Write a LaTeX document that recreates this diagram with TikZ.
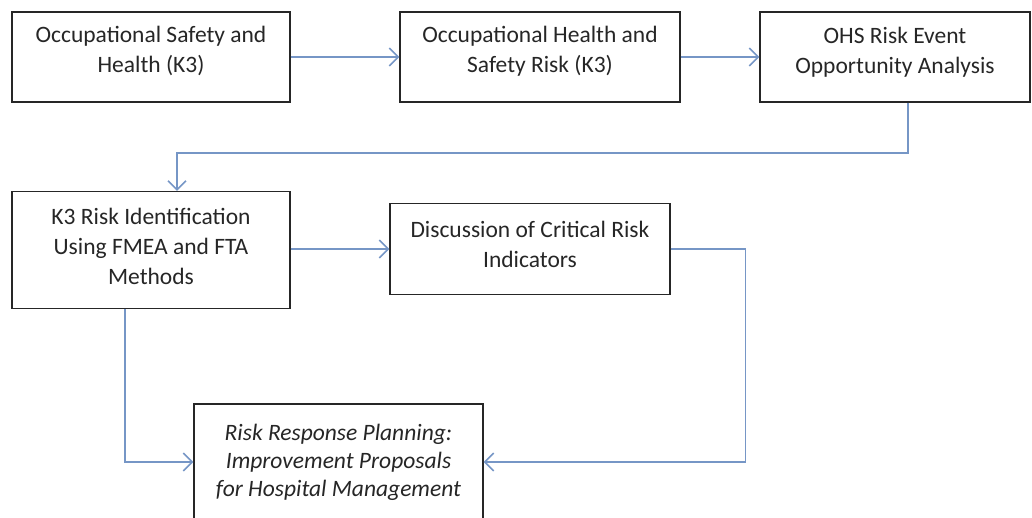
\documentclass[tikz,border=0pt]{standalone}
\usepackage{fontspec}
\setmainfont{Carlito}
\usetikzlibrary{arrows.meta}
\definecolor{linkblue}{RGB}{118,150,198}
\definecolor{inkgray}{RGB}{38,38,38}
\begin{document}
\begin{tikzpicture}[x=1pt,y=-1pt,
  stepbox/.style={draw=black!85, line width=1.2pt, align=center, text=inkgray,
    font=\fontsize{23.5}{30}\selectfont, inner sep=0pt},
  link/.style={draw=linkblue, line width=1.6pt,
    -{Straight Barb[length=9pt,width=18pt,line width=1.6pt]}}]
\useasboundingbox (0,0) rectangle (1032,518);

% top row (text sits a little above the middle of each box)
\node[stepbox, minimum width=278pt, minimum height=90pt, text depth=15pt] (k3) at (151,57)
  {Occupational Safety and\\Health (K3)};
\node[stepbox, minimum width=280pt, minimum height=90pt, text depth=15pt] (risk) at (540,57)
  {Occupational Health and\\Safety Risk (K3)};
\node[stepbox, minimum width=270pt, minimum height=90pt, text depth=14pt] (opp) at (895,57)
  {OHS Risk Event\\Opportunity Analysis};

% middle row
\node[stepbox, minimum width=278pt, minimum height=117pt, text depth=8pt] (ident) at (151,250)
  {K3 Risk Identification\\Using FMEA and FTA\\Methods};
\node[stepbox, minimum width=280pt, minimum height=91pt, text depth=10pt] (disc) at (530,249)
  {Discussion of Critical Risk\\Indicators};

% bottom box (runs past the lower edge)
\node[stepbox, font=\fontsize{23.5}{28}\selectfont\itshape,
  minimum width=289pt, minimum height=116pt] (plan) at (338.5,462)
  {Risk Response Planning:\\Improvement Proposals\\for Hospital Management};

% connectors
\coordinate (turn) at (908,153);
\draw[link] (k3.east) -- (risk.west);
\draw[link] (risk.east) -- (opp.west);
\draw[link] (opp.south -| turn) -- (turn) -| ([xshift=26pt]ident.north);
\draw[link] (ident.east |- disc.west) -- (disc.west);
\draw[link] ([xshift=-26pt]ident.south) |- (plan.west);
\draw[link] (disc.east) -- ++(75,0) |- (plan.east);
\end{tikzpicture}
\end{document}
